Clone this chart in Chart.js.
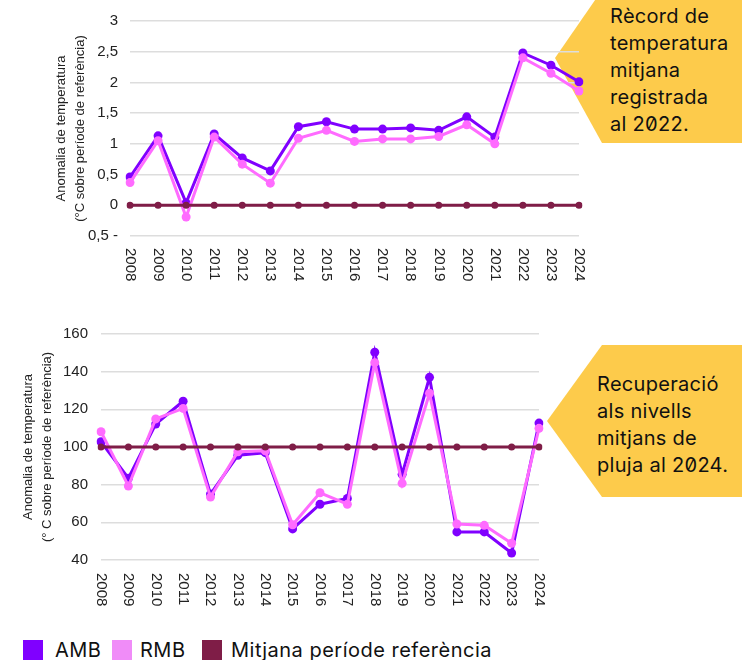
<!DOCTYPE html>
<html>
<head>
<meta charset="utf-8">
<script src="https://cdn.jsdelivr.net/npm/chart.js@4.4.1/dist/chart.umd.min.js"></script>
<style>
  html, body { margin: 0; padding: 0; background: #fff; }
  body { width: 742px; height: 660px; position: relative; overflow: hidden; font-family: Inter, "Liberation Sans", sans-serif; }
  .wrap { position: absolute; z-index: 2; }
  .note { position: absolute; background: #FDCB4B; z-index: 1; }
  .note-text { position: absolute; z-index: 3; font-family: Inter, sans-serif; font-size: 20px; line-height: 27px; letter-spacing: 0.3px; color: #111; font-feature-settings: "zero" 1; white-space: nowrap; }
  .legend { position: absolute; left: 23px; top: 640px; height: 20px; display: flex; align-items: center; font-family: Inter, sans-serif; font-size: 20px; letter-spacing: 0.5px; color: #111; white-space: nowrap; }
  .legend .sw { width: 20px; height: 20px; display: inline-block; flex: none; }
</style>
</head>
<body>
<div class="note" style="left:0;top:0;width:742px;height:160px;clip-path:polygon(602px -10px, 742px -10px, 742px 143px, 602px 143px, 555px 58px);"></div>
<div class="note-text" style="left:610px;top:3px;">Rècord de<br>temperatura<br>mitjana<br>registrada<br>al 2022.</div>

<div class="note" style="left:0;top:0;width:742px;height:660px;clip-path:polygon(602px 345px, 742px 345px, 742px 497px, 602px 497px, 547px 421px);"></div>
<div class="note-text" style="left:597px;top:371px;">Recuperació<br>als nivells<br>mitjans de<br>pluja al 2024.</div>

<div class="wrap" style="left:0;top:0;"><canvas id="c1" width="600" height="290"></canvas></div>
<div class="wrap" style="left:0;top:300px;"><canvas id="c2" width="560" height="320"></canvas></div>

<div class="legend">
  <span class="sw" style="background:#8000FF"></span><span style="margin-left:12px;width:57px;">AMB</span>
  <span class="sw" style="background:#F08CF8"></span><span style="margin-left:8px;width:62px;">RMB</span>
  <span class="sw" style="background:#7F1D47"></span><span style="margin-left:9px;">Mitjana període referència</span>
</div>

<script>
const years = ['2008','2009','2010','2011','2012','2013','2014','2015','2016','2017','2018','2019','2020','2021','2022','2023','2024'];

// Temperature anomaly (°C above reference period)
const tempAMB = [0.46, 1.13, 0.04, 1.16, 0.77, 0.56, 1.28, 1.36, 1.24, 1.24, 1.26, 1.22, 1.44, 1.11, 2.48, 2.28, 2.01];
const tempRMB = [0.37, 1.05, -0.19, 1.11, 0.67, 0.36, 1.09, 1.22, 1.04, 1.08, 1.08, 1.12, 1.31, 1.00, 2.40, 2.15, 1.86];
const tempRef = [0, 0, 0, 0, 0, 0, 0, 0, 0, 0, 0, 0, 0, 0, 0, 0, 0];

// Rainfall (% of reference period)
const rainAMB = [102.8, 83.4, 112.2, 124.3, 75.0, 95.6, 97.0, 56.5, 69.6, 72.7, 150.3, 85.5, 137.0, 54.9, 54.9, 43.7, 112.7];
const rainRMB = [108.1, 79.3, 114.9, 120.5, 73.4, 97.5, 98.0, 58.7, 75.7, 69.6, 144.8, 80.7, 128.5, 59.1, 58.4, 48.9, 109.9];
const rainRef = [100, 100, 100, 100, 100, 100, 100, 100, 100, 100, 100, 100, 100, 100, 100, 100, 100];

const seriesNames = ['AMB', 'RMB', 'Mitjana període referència'];
const colAMB = '#8000FF', colRMB = '#FF6BFF', colRef = '#7F1D47';

const titleTemp = ['Anomalia de temperatura', '(°C sobre període de referència)'];
const titleRain = ['Anomalia de temperatura', '(° C sobre període de referència)'];

function ds(label, data, color, radius, order) {
  return { label, data, borderColor: color, backgroundColor: color, pointBackgroundColor: color,
    pointBorderColor: color, pointRadius: radius, pointHoverRadius: radius, borderWidth: 3,
    pointBorderWidth: 0, tension: 0, order };
}

function vertLabels(offset) {
  return {
    id: 'vertLabels',
    afterDraw(chart) {
      const s = chart.scales.x, ctx = chart.ctx;
      ctx.save();
      ctx.font = '15px "Liberation Sans", Arial, sans-serif';
      ctx.fillStyle = '#222';
      ctx.textAlign = 'left';
      ctx.textBaseline = 'middle';
      s.ticks.forEach((t, i) => {
        const x = s.getPixelForTick(i);
        ctx.save();
        ctx.translate(x, chart.chartArea.bottom + offset);
        ctx.rotate(Math.PI / 2);
        ctx.fillText(s.getLabelForValue(t.value), 0, 0);
        ctx.restore();
      });
      ctx.restore();
    }
  };
}

function makeOpts(cfg) {
  return {
    responsive: false, animation: false,
    layout: { padding: cfg.padding },
    plugins: { legend: { display: false }, tooltip: { enabled: false } },
    scales: {
      x: {
        offset: false,
        grid: { display: false }, border: { display: false },
        ticks: { color: 'rgba(0,0,0,0)', minRotation: 90, maxRotation: 90, autoSkip: false, font: { size: 15 } },
        afterFit: s => { s.height = cfg.xh; }
      },
      y: {
        min: cfg.min, max: cfg.max,
        border: { display: false },
        grid: { color: '#dddddd', lineWidth: 1.5, drawTicks: false },
        ticks: { stepSize: cfg.step, padding: cfg.tickPad, color: '#222',
          font: { family: '"Liberation Sans", Arial, sans-serif', size: 15 },
          callback: cfg.fmt },
        title: { display: true, text: cfg.title, color: '#222',
          font: { family: '"Liberation Sans", Arial, sans-serif', size: 13, lineHeight: 1.45 },
          padding: { top: cfg.titlePad, bottom: 0 } },
        afterFit: s => { s.width = cfg.yw; }
      }
    }
  };
}

new Chart(document.getElementById('c1'), {
  type: 'line',
  data: { labels: years, datasets: [
    ds(seriesNames[2], tempRef, colRef, 3.5, 0),
    ds(seriesNames[1], tempRMB, colRMB, 4.5, 1),
    ds(seriesNames[0], tempAMB, colAMB, 4.5, 2)
  ]},
  options: makeOpts({ padding: { top: 17, right: 21, left: 0, bottom: 0 }, xh: 54, yw: 130,
    min: -0.5, max: 3, step: 0.5, tickPad: 12, title: titleTemp, titlePad: 52,
    fmt: v => v === -0.5 ? '0,5 -' : String(v).replace('.', ',') }),
  plugins: [vertLabels(12)]
});

new Chart(document.getElementById('c2'), {
  type: 'line',
  data: { labels: years, datasets: [
    ds(seriesNames[2], rainRef, colRef, 3.5, 0),
    ds(seriesNames[1], rainRMB, colRMB, 4.5, 1),
    ds(seriesNames[0], rainAMB, colAMB, 4.5, 2)
  ]},
  options: makeOpts({ padding: { top: 34, right: 20, left: 0, bottom: 0 }, xh: 60, yw: 101,
    min: 40, max: 160, step: 20, tickPad: 13, title: titleRain, titlePad: 19,
    fmt: v => String(v) }),
  plugins: [vertLabels(13)]
});
</script>
</body>
</html>
